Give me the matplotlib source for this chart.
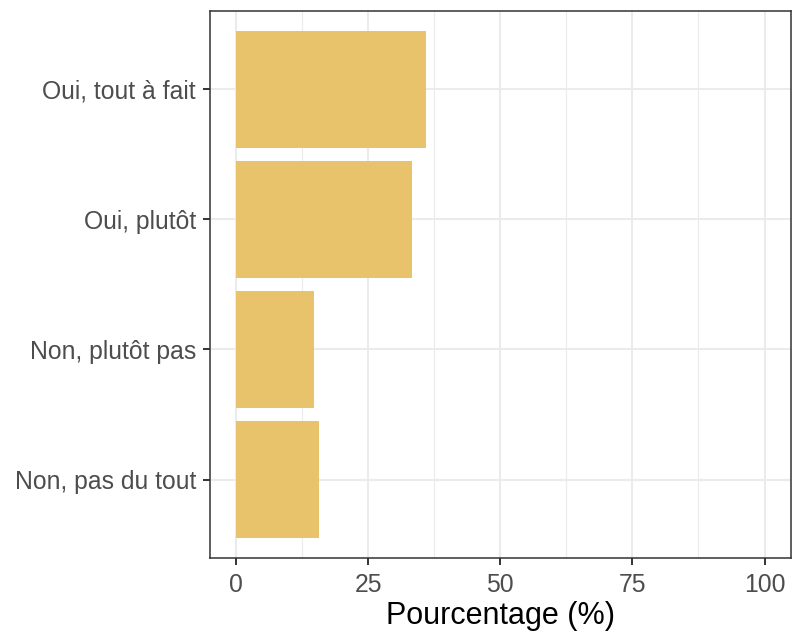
import matplotlib
matplotlib.use("Agg")
import matplotlib.pyplot as plt
from matplotlib.ticker import MultipleLocator

categories = ["Oui, tout à fait", "Oui, plutôt", "Non, plutôt pas", "Non, pas du tout"]
values = [35.9, 33.3, 14.8, 15.7]
xticks = [0, 25, 50, 75, 100]
xlabel = "Pourcentage (%)"

plt.rcParams['font.family'] = ['Liberation Sans', 'DejaVu Sans']

W, H = 792, 637
fig = plt.figure(figsize=(W / 100, H / 100), dpi=100)
left, right, top, bottom = 209.5, 791, 11, 557.7
ax = fig.add_axes([left / W, 1 - bottom / H, (right - left) / W, (bottom - top) / H])

n = len(categories)
ypos = list(range(n))[::-1]
ax.barh(ypos, values, height=0.9, color="#E8C36B", zorder=3)

ax.set_xlim(-5, 105)
ax.set_ylim(-0.6, n - 1 + 0.6)
ax.set_xticks(xticks)
ax.set_xticklabels([str(t) for t in xticks])
ax.xaxis.set_minor_locator(MultipleLocator(12.5))
ax.set_yticks(ypos)
ax.set_yticklabels(categories)

ax.grid(True, which="major", color="#EBEBEB", linewidth=1.5, zorder=0)
ax.grid(True, which="minor", axis="x", color="#EBEBEB", linewidth=0.8, zorder=0)
ax.set_axisbelow(True)

for s in ax.spines.values():
    s.set_color("#333333")
    s.set_linewidth(1.1)

ax.tick_params(axis="both", which="major", length=5.3, width=1.4, color="#333333",
               labelcolor="#4D4D4D", labelsize=17.8, pad=4.5)
ax.tick_params(axis="x", which="major", pad=5.5)
ax.tick_params(axis="both", which="minor", length=0)
ax.set_xlabel(xlabel, fontsize=22, color="black", labelpad=3)

fig.savefig("out.png", dpi=100)
